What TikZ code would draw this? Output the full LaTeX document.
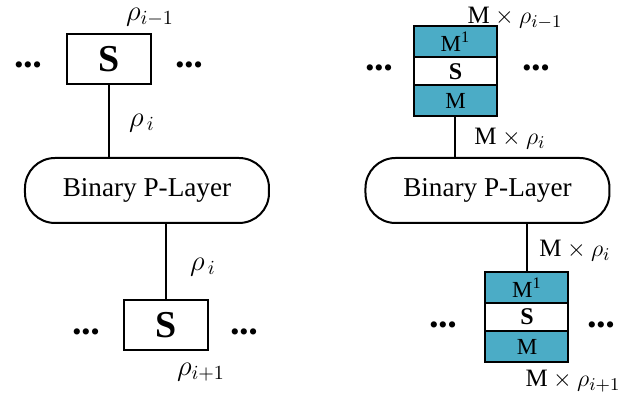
\documentclass[tikz,border=0pt]{standalone}
\usepackage{fontspec}
\setmainfont{Liberation Serif}
\usetikzlibrary{positioning}
\definecolor{tealbox}{RGB}{75,172,198}

\begin{document}
\begin{tikzpicture}[
    x=0.5pt, y=-0.5pt,
    wire/.style={line width=1pt},
    sbox/.style={draw, line width=1pt, minimum width=42pt, minimum height=25pt, inner sep=0pt, font=\fontsize{19}{20}\selectfont\bfseries},
    layer/.style={draw, line width=1pt, rounded corners=15pt, minimum width=122pt, minimum height=32.5pt, font=\fontsize{13.6}{15}\selectfont},
    mcell/.style={draw, line width=1pt, fill=tealbox, minimum width=41.5pt, minimum height=15.5pt, inner sep=0pt, font=\fontsize{11.5}{12}\selectfont},
    scell/.style={draw, line width=1pt, fill=white, minimum width=41.5pt, minimum height=14pt, inner sep=0pt, font=\fontsize{12}{12}\selectfont\bfseries},
    dotrow/.style={inner sep=0pt, font=\fontsize{13}{14}\selectfont},
    lbl/.style={inner sep=0pt, font=\fontsize{14}{16}\selectfont},
    mlbl/.style={inner sep=0pt, font=\fontsize{12.5}{14}\selectfont},
]
    \useasboundingbox (0,0) rectangle (629,401);

    % left: single S blocks
    \node[sbox] (sTop) at (109,59) {S};
    \node[dotrow] (dTopL) at (28,68) {•••};
    \node[dotrow] (dTopR) at (189,68) {•••};
    \node[layer] (layerL) at (147,190.5) {Binary P-Layer};
    \node[sbox] (sBot) at (166.5,325.5) {S};
    \node[dotrow] (dBotL) at (86,335) {•••};
    \node[dotrow] (dBotR) at (244,335) {•••};

    \node[lbl] (rhoTop) at (150,17) {$\rho_{i-1}$};
    \node[lbl] (rhoUp) at (142,123) {$\rho_{\,i}$};
    \node[lbl] (rhoDown) at (203,267) {$\rho_{\,i}$};
    \node[lbl] (rhoBot) at (201,372) {$\rho_{i+1}$};

    \draw[wire] (sTop.south) -- (sTop.south |- layerL.north);
    \draw[wire] (layerL.south -| sBot.north) -- (sBot.north);

    % right: stacked M / S / M blocks
    \node[mcell] (mTopA) at (455.5,42) {M\textsuperscript{1}};
    \node[scell, below=-1pt of mTopA] (sTopR) {S};
    \node[mcell, below=-1pt of sTopR] (mTopB) {M};
    \node[dotrow] (dTopRL) at (379,71) {•••};
    \node[dotrow] (dTopRR) at (536,71) {•••};
    \node[layer] (layerR) at (487.5,190.5) {Binary P-Layer};
    \node[mcell] (mBotA) at (527,287.5) {M\textsuperscript{1}};
    \node[scell, below=-1pt of mBotA] (sBotR) {S};
    \node[mcell, below=-1pt of sBotR] (mBotB) {M};
    \node[dotrow] (dBotRL) at (443,328) {•••};
    \node[dotrow] (dBotRR) at (601,328) {•••};

    \node[mlbl] (mrhoTop) at (515,18) {$\mathrm{M}\times\rho_{i-1}$};
    \node[mlbl] (mrhoUp) at (510,139) {$\mathrm{M}\times\rho_{i}$};
    \node[mlbl] (mrhoDown) at (575,251) {$\mathrm{M}\times\rho_{i}$};
    \node[mlbl] (mrhoBot) at (573,381) {$\mathrm{M}\times\rho_{i+1}$};

    \draw[wire] (mTopB.south) -- (mTopB.south |- layerR.north);
    \draw[wire] (layerR.south -| mBotA.north) -- (mBotA.north);
\end{tikzpicture}
\end{document}
